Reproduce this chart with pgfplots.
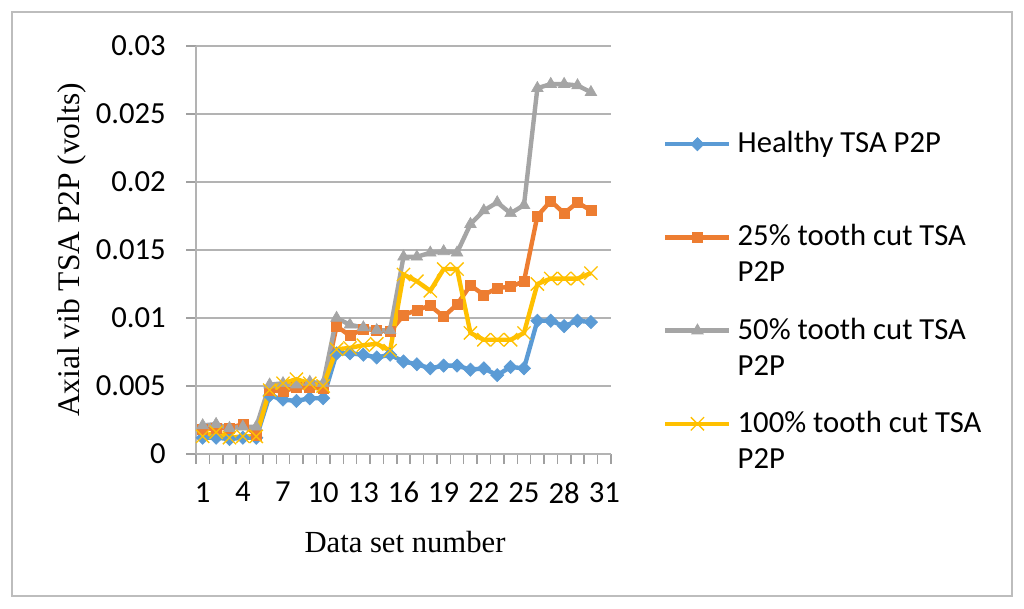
\documentclass[border=0pt]{standalone}
\usepackage{pgfplots}
\usepackage{pgfplotstable}
\pgfplotsset{compat=1.18}
\usepackage{fontspec}
\setmainfont{Carlito}
\newfontfamily\tnr{Liberation Serif}

\definecolor{xlblue}{HTML}{5B9BD5}
\definecolor{xlorange}{HTML}{ED7D31}
\definecolor{xlgray}{HTML}{A5A5A5}
\definecolor{xlyellow}{HTML}{FFC000}
\definecolor{gridgray}{HTML}{B3B3B3}
\definecolor{tickgray}{HTML}{A0A0A0}
\definecolor{framegray}{HTML}{BDBDBD}

% data set number, healthy, 25%, 50%, 100% tooth cut
\pgfplotstableread{
n  h       q25     q50     q100
1  0.0012  0.0018  0.0021  0.0013
2  0.0012  0.0019  0.0022  0.0016
3  0.0011  0.0019  0.0019  0.0012
4  0.0012  0.0022  0.0020  0.0013
5  0.0012  0.0014  0.0020  0.0013
6  0.0043  0.0047  0.0051  0.0047
7  0.0040  0.0046  0.0052  0.0052
8  0.0039  0.0049  0.0051  0.0055
9  0.0041  0.0049  0.0053  0.0052
10 0.0041  0.0048  0.0052  0.0050
11 0.0074  0.0094  0.0100  0.0077
12 0.0074  0.0087  0.0095  0.0078
13 0.0073  0.0092  0.0093  0.0080
14 0.0071  0.0091  0.0091  0.0081
15 0.0073  0.0090  0.0091  0.0076
16 0.0068  0.0102  0.0145  0.0132
17 0.0066  0.0106  0.0145  0.0127
18 0.0063  0.0109  0.0148  0.0120
19 0.0065  0.0101  0.0149  0.0136
20 0.0065  0.0110  0.0148  0.0136
21 0.0062  0.0124  0.0169  0.0089
22 0.0063  0.0117  0.0179  0.0084
23 0.0058  0.0122  0.0185  0.0084
24 0.0064  0.0123  0.0177  0.0084
25 0.0063  0.0127  0.0183  0.0089
26 0.0098  0.0175  0.0269  0.0125
27 0.0098  0.0186  0.0272  0.0129
28 0.0094  0.0177  0.0272  0.0129
29 0.0098  0.0185  0.0271  0.0129
30 0.0097  0.0179  0.0266  0.0133
}\datatable

\begin{document}
\begin{tikzpicture}
\useasboundingbox (0,0) rectangle (768pt,456pt);
\draw[framegray, line width=1.1pt] (9pt,9pt) rectangle (759pt,447pt);
\begin{axis}[
    at={(147pt,115.5pt)}, anchor=south west,
    scale only axis, width=311.25pt, height=306pt,
    xmin=0.5, xmax=31.5, ymin=0, ymax=0.03,
    axis x line*=bottom, axis y line*=left,
    axis line style={gridgray, line width=1.1pt},
    xtick={0.5,1.5,...,31.5},
    xticklabels={},
    extra x ticks={1,4,7,10,13,16,19,22,25,28,31},
    extra x tick labels={1,4,7,10,13,16,19,22,25,28,31},
    extra x tick style={major tick length=0pt, grid=none},
    ytick={0,0.005,0.01,0.015,0.02,0.025,0.03},
    yticklabels={0,0.005,0.01,0.015,0.02,0.025,0.03},
    scaled y ticks=false,
    every tick/.style={draw=tickgray, line width=1.1pt},
    major tick length=7.5pt,
    tick align=outside,
    ymajorgrids, major grid style={gridgray, line width=1.1pt},
    yticklabel style={font=\fontsize{23}{28}\selectfont, inner sep=0pt, anchor=east, xshift=-15pt},
    xticklabel style={font=\fontsize{23}{28}\selectfont, inner sep=0pt, anchor=north, yshift=-21pt},
    every axis x label/.style={at={(axis description cs:0.5036,-0.2157)}, anchor=center},
    every axis y label/.style={at={(axis description cs:-0.300,0.5)}, rotate=90, anchor=center},
    xlabel={\tnr\fontsize{23}{27}\selectfont Data set number},
    ylabel={\tnr\fontsize{23.6}{27}\selectfont Axial vib TSA P2P (volts)},
    clip=false,
    legend cell align=left,
    legend image code/.code={\draw[mark repeat=2, mark phase=2, #1] plot coordinates {(0pt,0pt) (24pt,0pt) (48pt,0pt)};},
    legend image post style={yshift=-2.25pt},
    legend style={draw=none, fill=none, inner sep=0pt,
        at={(rel axis cs:1.1253,0.8007)}, anchor=north west,
        font=\fontsize{23}{27}\selectfont,
        nodes={inner sep=0pt},
        row sep=49.5pt,
        /tikz/every odd column/.append style={column sep=4.5pt}},
]
\addplot[xlblue, line width=3.3pt, mark=square*, mark size=3.5pt,
    mark options={solid, xlblue, rotate=45, line width=0.5pt}]
    table[x=n, y=h] {\datatable};
\addlegendentry{\parbox[t]{230pt}{\strut Healthy TSA P2P}}
\addplot[xlorange, line width=3.3pt, mark=square*, mark size=3.75pt,
    mark options={solid, xlorange, line width=0.5pt}]
    table[x=n, y=q25] {\datatable};
\addlegendentry{\parbox[t]{230pt}{\strut 25\% tooth cut TSA\\\strut P2P}}
\addplot[xlgray, line width=3.3pt, mark=triangle*, mark size=5pt,
    mark options={solid, xlgray, line width=0.5pt}]
    table[x=n, y=q50] {\datatable};
\addlegendentry{\parbox[t]{230pt}{\strut 50\% tooth cut TSA\\\strut P2P}}
\addplot[xlyellow, line width=3.3pt, mark=x, mark size=7pt,
    mark options={solid, xlyellow, line width=1pt}]
    table[x=n, y=q100] {\datatable};
\addlegendentry{\parbox[t]{230pt}{\strut 100\% tooth cut TSA\\\strut P2P}}
\end{axis}
\end{tikzpicture}
\end{document}
